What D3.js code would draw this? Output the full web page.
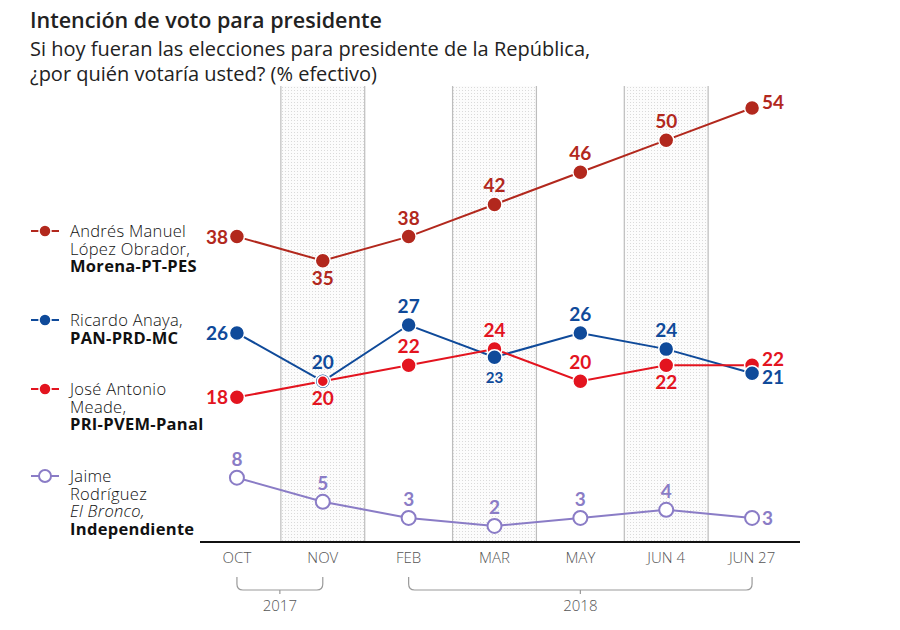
<!DOCTYPE html>
<html><head><meta charset="utf-8">
<script src="https://cdn.jsdelivr.net/npm/d3@7"></script>
<style>
body{margin:0;background:#fff;}
</style></head>
<body><svg id="c" width="900" height="630"></svg>
<script>
const periods = ["OCT","NOV","FEB","MAR","MAY","JUN 4","JUN 27"];
const years = [{label:"2017", from:"OCT", to:"NOV"},{label:"2018", from:"FEB", to:"JUN 27"}];
const shaded = ["NOV","MAR","JUN 4"];
const amlo   = [38,35,38,42,46,50,54];
const anaya  = [26,20,27,23,26,24,21];
const meade  = [18,20,22,24,20,22,22];
const bronco = [8,5,3,2,3,4,3];
const amloSide   = ["left","below","above","above","above","above","rightUp"];
const anayaSide  = ["left","above","above","below","above","above","rightDown"];
const meadeSide  = ["left","below","above","above","above","below","rightUp"];
const broncoSide = ["above","above","above","above","above","above","right"];

const series = [
  {name:["Andrés Manuel","López Obrador,"], party:"Morena-PT-PES", values:amlo, side:amloSide, color:"#b2281d", hollow:false, legendY:231},
  {name:["Ricardo Anaya,"], party:"PAN-PRD-MC", values:anaya, side:anayaSide, color:"#0f4a9a", hollow:false, legendY:320},
  {name:["José Antonio","Meade,"], party:"PRI-PVEM-Panal", values:meade, side:meadeSide, color:"#e3141f", hollow:false, legendY:389},
  {name:["Jaime","Rodríguez","El Bronco,"], party:"Independiente", values:bronco, side:broncoSide, color:"#8a7cc6", hollow:true, legendY:476}
];

const OS = "'Open Sans', 'Noto Sans', sans-serif";
const LA = "Lato, 'Open Sans', sans-serif";
const svg = d3.select("#c");
const x = d3.scaleBand().domain(periods).range([194,795]).padding(0);
const y = d3.scaleLinear().domain([0,54]).range([542,108]);
const cx = p => x(p) + x.bandwidth()/2;

// pattern
const defs = svg.append("defs");
const pat = defs.append("pattern").attr("id","dots").attr("width",3).attr("height",3).attr("patternUnits","userSpaceOnUse");
pat.append("rect").attr("width",3).attr("height",3).attr("fill","#fcfcfc");
pat.append("rect").attr("width",1).attr("height",1).attr("fill","#dadada");

// shaded bands
const bandTop = 86;
svg.selectAll("rect.band").data(shaded).enter().append("rect").attr("class","band")
  .attr("x", d=>x(d)+1).attr("y", bandTop).attr("width", x.bandwidth()-2).attr("height", y(0)-bandTop)
  .attr("fill","url(#dots)").attr("stroke","none");
shaded.forEach(d=>{
  [x(d)+1, x(d)+x.bandwidth()-1].forEach(xx=>{
    svg.append("line").attr("x1",xx).attr("x2",xx).attr("y1",bandTop).attr("y2",y(0))
      .attr("stroke","#bdbdbd").attr("stroke-width",1.2);
  });
});

// title
svg.append("text").attr("x",30).attr("y",28).style("font-size","21.5px").style("font-weight",600).style("font-family",OS).attr("fill","#222").text("Intención de voto para presidente");
svg.append("text").attr("x",30).attr("y",56).style("font-size","20px").style("font-family",OS).attr("fill","#222").text("Si hoy fueran las elecciones para presidente de la República,");
svg.append("text").attr("x",30).attr("y",81).style("font-size","20px").style("font-family",OS).attr("fill","#222").text("¿por quién votaría usted? (% efectivo)");

// axis
const axis = d3.axisBottom(x).tickSize(0).tickSizeOuter(0).tickPadding(10);
const gA = svg.append("g").attr("transform",`translate(0,${y(0)})`).call(axis);
gA.select(".domain").attr("stroke","#111").attr("stroke-width",2).attr("d","M200,0H800");
gA.selectAll(".tick text").style("font-size","15px").style("font-weight",300).attr("fill","#555").style("font-family",OS);

// year brackets
years.forEach(yr=>{
  const x0 = cx(yr.from), x1 = cx(yr.to), xm=(x0+x1)/2, top=577, bot=590, r=6;
  svg.append("path").attr("fill","none").attr("stroke","#9a9a9a").attr("stroke-width",1.2)
    .attr("d",`M${x0},${top}V${bot-r}Q${x0},${bot} ${x0+r},${bot}H${x1-r}Q${x1},${bot} ${x1},${bot-r}V${top}M${xm},${bot}V${bot+4}`);
  svg.append("text").attr("x",xm).attr("y",611).attr("text-anchor","middle").style("font-size","15px").style("font-weight",300).style("font-family",OS).attr("fill","#555").text(yr.label);
});

// lines
const line = d3.line().x((d,i)=>cx(periods[i])).y(d=>y(d));
series.forEach(s=>{
  svg.append("path").datum(s.values).attr("d",line).attr("fill","none").attr("stroke",s.color).attr("stroke-width",2);
});

// points
function drawPoints(s, filter, r){
  svg.append("g").selectAll("circle").data(s.values.map((v,i)=>({v,i}))).enter()
    .filter(d=>filter(d))
    .append("circle").attr("cx",d=>cx(periods[d.i])).attr("cy",d=>y(d.v)).attr("r",r)
    .attr("fill", s.hollow ? "#fff" : s.color)
    .attr("stroke", s.hollow ? s.color : "#fff").attr("stroke-width", s.hollow?2:1.5);
}
drawPoints(series[0], ()=>true, 7.5);
drawPoints(series[2], ()=>true, 7.5);
drawPoints(series[1], ()=>true, 7.5);
drawPoints(series[2], d=>meade[d.i]===anaya[d.i], 5.5);
drawPoints(series[3], ()=>true, 7);

// value labels
series.forEach(s=>{
  s.values.forEach((v,i)=>{
    const px = cx(periods[i]), py = y(v), side = s.side[i];
    const small = (s===series[1] && side==="below" && Math.abs(meade[i]-v)<=1);
    const t = svg.append("text").attr("fill",s.color).style("font-family",LA).style("font-weight",700).style("font-size", (small?15:19)+"px").text(v);
    if(side==="left") t.attr("x",px-9).attr("y",py+7).attr("text-anchor","end");
    else if(side==="right") t.attr("x",px+10).attr("y",py+7).attr("text-anchor","start");
    else if(side==="rightUp") t.attr("x",px+10).attr("y",py+1).attr("text-anchor","start");
    else if(side==="rightDown") t.attr("x",px+10).attr("y",py+11).attr("text-anchor","start");
    else if(side==="above") t.attr("x",px).attr("y",py-12).attr("text-anchor","middle");
    else t.attr("x",px).attr("y",py+(small?26:24)).attr("text-anchor","middle");
  });
});

// legend
series.forEach(s=>{
  const ly = s.legendY;
  svg.append("line").attr("x1",31).attr("x2",59).attr("y1",ly).attr("y2",ly).attr("stroke",s.color).attr("stroke-width",2);
  svg.append("circle").attr("cx",45).attr("cy",ly).attr("r",6).attr("fill",s.hollow?"#fff":s.color).attr("stroke",s.hollow?s.color:"#fff").attr("stroke-width",s.hollow?2:1.5);
  const lines = s.name.map(n=>({t:n, w:300, it:n==="El Bronco,"})).concat([{t:s.party,w:700,it:false}]);
  const txt = svg.append("text").attr("x",70).attr("y",ly+6).style("font-size","16.5px")
      .style("font-family",OS).style("letter-spacing","0.3px").attr("fill","#111");
  lines.forEach((l,k)=>{
    txt.append("tspan").attr("x",70).attr("dy", k===0 ? 0 : 17.5).style("font-weight",l.w)
      .style("font-style",l.it?"italic":"normal").text(l.t);
  });
});
</script></body></html>
